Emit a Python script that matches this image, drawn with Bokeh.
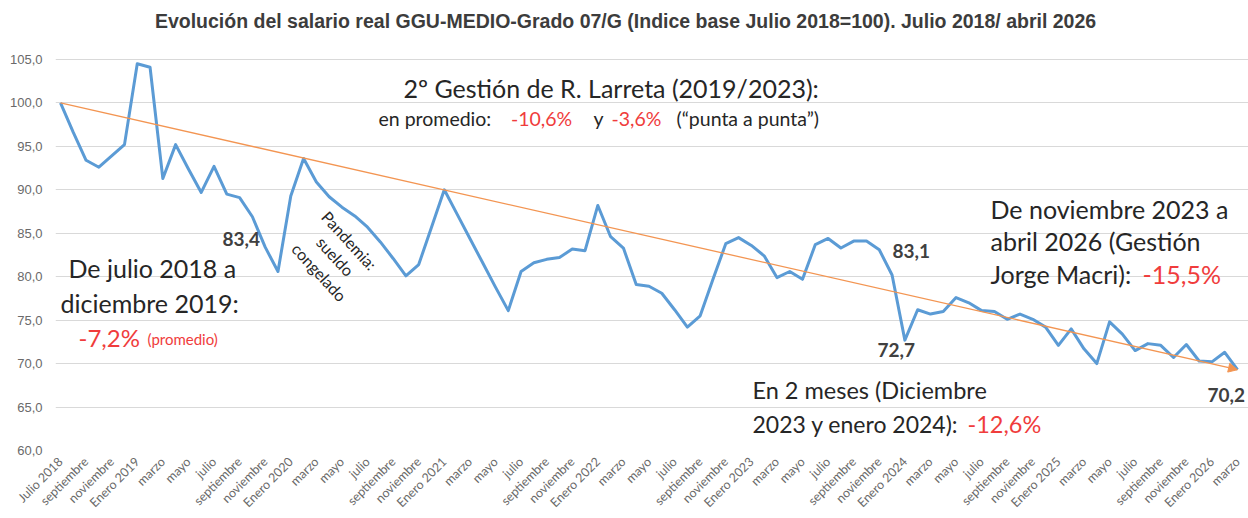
from bokeh.plotting import figure
from bokeh.models import Range1d, FixedTicker, Label, Arrow, NormalHead, ColumnDataSource
from bokeh.embed import file_html
from bokeh.resources import INLINE

# ---------------- data ----------------
x_tick_labels = [
    "Julio 2018", "septiembre", "noviembre",
    "Enero 2019", "marzo", "mayo", "julio", "septiembre", "noviembre",
    "Enero 2020", "marzo", "mayo", "julio", "septiembre", "noviembre",
    "Enero 2021", "marzo", "mayo", "julio", "septiembre", "noviembre",
    "Enero 2022", "marzo", "mayo", "julio", "septiembre", "noviembre",
    "Enero 2023", "marzo", "mayo", "julio", "septiembre", "noviembre",
    "Enero 2024", "marzo", "mayo", "julio", "septiembre", "noviembre",
    "Enero 2025", "marzo", "mayo", "julio", "septiembre", "noviembre",
    "Enero 2026", "marzo",
]

salario = [
    100.0, 96.6, 93.4, 92.6, 93.9, 95.2, 104.5, 104.1, 91.3, 95.2,
    92.4, 89.7, 92.7, 89.5, 89.1, 86.9, 83.4, 80.6, 89.3, 93.6,
    90.9, 89.2, 88.0, 87.0, 85.7, 84.0, 82.1, 80.1, 81.4, 85.7,
    90.0, 87.2, 84.4, 81.6, 78.8, 76.1, 80.6, 81.6, 82.0, 82.2,
    83.2, 83.0, 88.2, 84.6, 83.3, 79.1, 78.9, 78.1, 76.2, 74.2,
    75.5, 79.7, 83.8, 84.5, 83.6, 82.4, 79.9, 80.6, 79.7, 83.7,
    84.4, 83.3, 84.1, 84.1, 83.1, 80.2, 72.7, 76.2, 75.7, 76.0,
    77.6, 77.0, 76.1, 76.0, 75.1, 75.7, 75.1, 74.2, 72.1, 74.0,
    71.7, 70.0, 74.8, 73.4, 71.5, 72.3, 72.1, 70.7, 72.2, 70.3,
    70.2, 71.3, 69.3,
]

y_ticks = [60, 65, 70, 75, 80, 85, 90, 95, 100, 105]
y_tick_labels = ["60,0", "65,0", "70,0", "75,0", "80,0", "85,0", "90,0", "95,0", "100,0", "105,0"]

# ---------------- layout helpers ----------------
W, H = 1248, 518
n = len(salario)
S_X = 1177.0 / (n - 1)          # px per month
S_Y = 394.5 / 45.0              # px per index unit
FRAME_L, FRAME_B = 55, 454


def dx(px):
    return (px - 60.0) / S_X


def dy(py):
    return 60.0 + (FRAME_B - py) / S_Y


p = figure(width=W, height=H, output_backend="svg", toolbar_location=None,
           x_range=Range1d(dx(FRAME_L), dx(W)), y_range=Range1d(60, dy(0)),
           min_border_left=FRAME_L, min_border_right=0, min_border_top=0,
           min_border_bottom=H - FRAME_B,
           background_fill_color="white", border_fill_color="white")
p.outline_line_color = None

# axes
p.xaxis.ticker = FixedTicker(ticks=list(range(0, n, 2)))
p.xaxis.major_label_overrides = {i * 2: lab for i, lab in enumerate(x_tick_labels)}
p.xaxis.major_label_orientation = 0.785398
p.xaxis.axis_line_color = None
p.xaxis.major_tick_line_color = None
p.xaxis.minor_tick_line_color = None
p.xaxis.major_tick_out = 0
p.xaxis.major_label_standoff = 9
p.xaxis.major_label_text_font = "Lato"
p.xaxis.major_label_text_font_size = "12.5px"
p.xaxis.major_label_text_color = "#6a6a6a"

p.yaxis.ticker = FixedTicker(ticks=y_ticks)
p.yaxis.major_label_overrides = dict(zip(y_ticks, y_tick_labels))
p.yaxis.axis_line_color = None
p.yaxis.major_tick_line_color = None
p.yaxis.minor_tick_line_color = None
p.yaxis.major_tick_out = 0
p.yaxis.major_label_standoff = 13
p.yaxis.major_label_text_font = "Liberation Sans"
p.yaxis.major_label_text_font_size = "13px"
p.yaxis.major_label_text_color = "#6a6a6a"

p.xgrid.grid_line_color = None
p.ygrid.grid_line_color = "#D9D9D9"
p.ygrid.grid_line_width = 1

src = ColumnDataSource(dict(x=list(range(n)), y=salario))
p.line("x", "y", source=src, line_color="#5B9BD5", line_width=3, line_join="round")

orange = "#F39552"
p.add_layout(Arrow(end=NormalHead(size=9, fill_color=orange, line_color=orange),
                   x_start=0, y_start=salario[0], x_end=n - 1, y_end=salario[-1],
                   line_color=orange, line_width=1.3))

DARK = "#262626"
RED = "#F03C3C"


def lab(text, px, py, size, color=DARK, style="normal", font="Lato", align="left", angle=0.0):
    p.add_layout(Label(x=dx(px), y=dy(py), text=text, text_font=font,
                       text_font_size=f"{size}px", text_color=color, text_font_style=style,
                       text_align=align, text_baseline="middle", angle=angle))


# title
lab("Evolución del salario real GGU-MEDIO-Grado 07/G (Indice base Julio 2018=100). Julio 2018/ abril 2026",
    625, 21, 19.5, color="#3c3c3c", style="bold", font="Liberation Sans", align="center")

# Larreta block
lab("2º Gestión de R. Larreta (2019/2023):", 403, 88, 25)
lab("en promedio:", 378, 119, 19.5)
lab("-10,6%", 541, 119, 19.5, color=RED, align="center")
lab("y", 593, 119, 19.5)
lab("-3,6%", 611, 119, 19.5, color=RED)
lab("(“punta a punta”)", 676, 119, 19.5)

# left block
lab("De julio 2018 a", 68, 270, 25)
lab("diciembre 2019:", 60, 305, 25)
lab("-7,2%", 78, 340, 24, color=RED)
lab("(promedio)", 147, 342, 15, color=RED)

# pandemia
ang = -0.83
lab("Pandemia:", 349, 242, 16, align="center", angle=ang)
lab("sueldo", 335, 258, 16, align="center", angle=ang)
lab("congelado", 319, 274, 16, align="center", angle=ang)

# data labels
lab("83,4", 222, 241, 19, color="#404040", style="bold")
lab("83,1", 892, 253, 19, color="#404040", style="bold")
lab("72,7", 877, 353, 19, color="#404040", style="bold")
lab("70,2", 1207, 398, 19, color="#404040", style="bold")

# right block
lab("De noviembre 2023 a", 990, 210, 25)
lab("abril 2026 (Gestión", 990, 243, 25)
lab("Jorge Macri):", 990, 276, 25)
lab("-15,5%", 1142, 276, 25, color=RED)

# bottom block
lab("En 2 meses (Diciembre", 752, 393, 23.5)
lab("2023 y enero 2024):", 752, 427, 23)
lab("-12,6%", 967, 427, 23.5, color=RED)

open("out.html", "w").write(file_html(p, INLINE))
